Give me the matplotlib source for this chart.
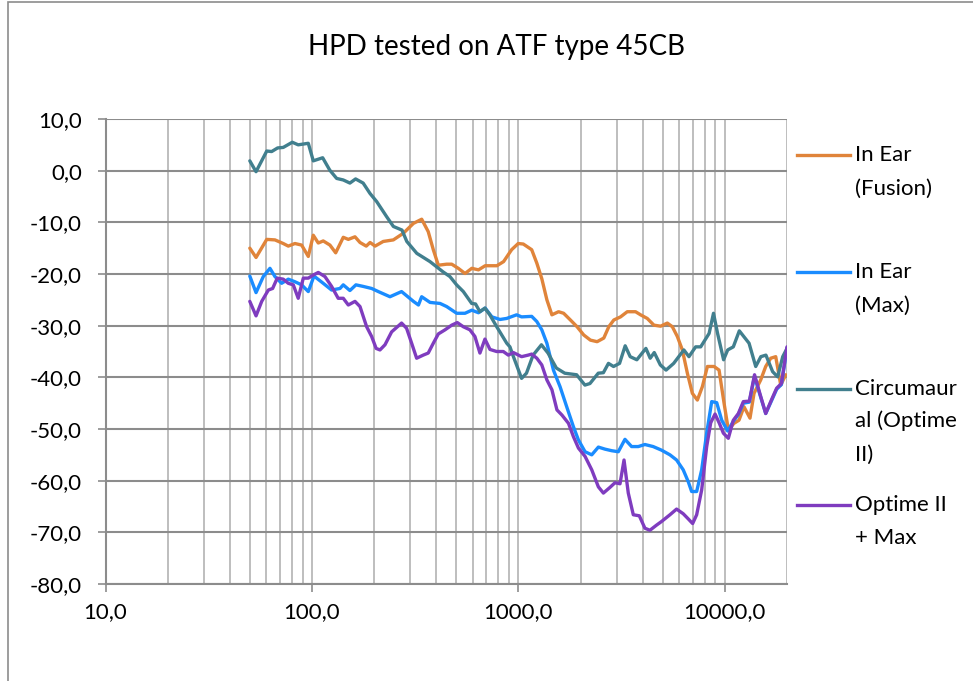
import numpy as np
import matplotlib
matplotlib.use("Agg")
import matplotlib.pyplot as plt
from matplotlib.lines import Line2D
from matplotlib.patches import Rectangle
from matplotlib.ticker import FixedLocator, FuncFormatter, NullFormatter

plt.rcParams['font.family'] = ['Lato', 'DejaVu Sans']

TITLE = "HPD tested on ATF type 45CB"

# In Ear (Fusion)
fusion_f = [50, 53.6, 60.4, 66.2, 72.6, 76.8, 82.7, 89.1, 96, 101.5, 107.3, 113.4, 122.2,
            130.3, 141.8, 150, 161.6, 170.9, 183.2, 191.2, 202.2, 221.5, 247.9, 277.4,
            310.2, 340.1, 365.8, 387.1, 409.4, 449.2, 475.4, 511.4, 551.4, 594.7, 640.5,
            690.4, 786.7, 847.8, 927, 998, 1056, 1160, 1228, 1298, 1374, 1453, 1565,
            1656, 1786, 1923, 2072, 2233, 2406, 2592, 2741, 2899, 3124, 3367, 3693, 3906,
            4208, 4533, 4885, 5264, 5567, 5887, 6225, 6583, 6960, 7360, 7783, 8230, 8866,
            9374, 9912, 10401, 11070, 11706, 12378, 13237, 13845, 14916, 15773, 16680,
            17637, 18650, 19720]
fusion_v = [-15.0, -16.8, -13.3, -13.4, -14.1, -14.6, -14.1, -14.4, -16.6, -12.5, -14.0,
            -13.6, -14.4, -15.9, -12.9, -13.3, -12.8, -13.9, -14.6, -13.9, -14.6, -13.7,
            -13.4, -12.1, -10.2, -9.4, -11.8, -15.3, -18.3, -18.1, -18.1, -18.9, -19.9,
            -18.9, -19.2, -18.4, -18.4, -17.6, -15.3, -14.1, -14.2, -15.3, -17.9, -20.9,
            -25.0, -27.9, -27.3, -27.6, -28.9, -30.2, -31.8, -32.8, -33.1, -32.4, -30.2,
            -28.9, -28.3, -27.3, -27.3, -27.9, -28.6, -29.9, -30.1, -29.5, -30.2, -32.1,
            -34.7, -39.2, -43.1, -44.4, -41.8, -37.9, -37.9, -38.6, -45.0, -50.2, -48.9,
            -48.3, -45.7, -47.9, -43.1, -40.5, -37.9, -36.3, -36.0, -41.5, -39.5]

# In Ear (Max)
max_f = [50, 53.6, 58.1, 62.6, 66.2, 71.3, 76.8, 82.7, 89.1, 96, 102.3, 113.4, 124.5,
         136.7, 141.8, 152.7, 163.3, 177, 194.6, 209.6, 238.7, 271.7, 310.2, 328, 340,
         373.2, 417.4, 449.2, 502.3, 551.4, 594.7, 640.5, 690.4, 744.2, 814.5, 877.6,
         980.4, 1036, 1160, 1228, 1298, 1374, 1478, 1591, 1714, 1845, 1952, 2103, 2266,
         2440, 2627, 2830, 3047, 3282, 3534, 3806, 4099, 4496, 4937, 5420, 5837, 6285,
         6649, 6904, 7302, 7722, 8166, 8636, 9132, 9658, 10320, 10992, 11625, 12290,
         13140, 13923, 14770, 15773, 16800, 17820, 18790, 20000]
max_v = [-20.4, -23.6, -20.5, -18.9, -20.5, -21.8, -21.0, -21.5, -22.1, -23.4, -20.4,
         -21.8, -23.1, -22.8, -22.1, -23.2, -22.1, -22.4, -22.8, -23.4, -24.4, -23.4,
         -25.3, -26.0, -24.4, -25.5, -25.7, -26.3, -27.6, -27.6, -27.0, -27.5, -26.6,
         -28.3, -28.8, -28.6, -27.9, -28.3, -28.2, -29.2, -30.8, -33.4, -38.6, -41.8,
         -45.7, -49.5, -52.1, -54.4, -55.0, -53.5, -53.9, -54.2, -54.4, -52.0, -53.4,
         -53.4, -53.0, -53.4, -54.1, -55.0, -56.0, -57.9, -60.2, -62.1, -62.1, -57.9,
         -50.8, -44.7, -44.9, -48.3, -50.4, -48.5, -47.2, -45.0, -44.8, -39.8, -43.3,
         -47.0, -44.6, -42.3, -41.4, -34.3]

# Circumaural (Optime II)
circ_f = [50, 53.6, 60.4, 63.8, 68.2, 72.6, 80.3, 85.8, 96, 101.5, 112.7, 122, 131.7,
          141.8, 152.7, 162.7, 177, 191, 206, 230, 248, 273, 288, 322, 373, 432, 466,
          502, 541, 594, 620, 651, 688, 727, 785, 813, 878, 910, 946, 1036, 1094, 1178,
          1293, 1391, 1527, 1677, 1914, 2100, 2221, 2437, 2580, 2730, 2889, 3090, 3290,
          3479, 3747, 4145, 4350, 4550, 4870, 5190, 5650, 6330, 6700, 7220, 7640, 8390,
          8810, 9220, 9860, 10320, 10990, 11750, 13100, 14110, 14940, 15810, 17040,
          18020, 19070, 20000]
circ_v = [1.9, -0.2, 3.8, 3.7, 4.4, 4.5, 5.5, 5.0, 5.3, 1.9, 2.5, 0.1, -1.5, -1.8, -2.4,
          -1.6, -2.4, -4.4, -6.0, -8.9, -10.8, -11.5, -13.7, -16.0, -17.6, -19.6, -20.5,
          -22.1, -23.4, -25.7, -25.8, -27.3, -26.6, -27.9, -30.2, -31.2, -33.4, -34.1,
          -36.0, -40.2, -39.2, -35.7, -33.7, -35.3, -38.2, -39.2, -39.5, -41.5, -41.2,
          -39.2, -39.1, -37.3, -37.9, -37.3, -33.9, -36.0, -36.6, -34.4, -36.3, -35.2,
          -37.6, -38.6, -37.3, -34.7, -36.0, -34.1, -34.1, -31.5, -27.6, -31.5, -36.6,
          -34.7, -34.1, -31.0, -33.4, -37.9, -36.0, -35.7, -38.9, -39.9, -36.0, -34.4]

# Optime II + Max
combo_f = [50, 53.6, 57.1, 61.5, 64.5, 67.9, 72.6, 76.8, 81.2, 85.8, 90.8, 96, 101.5,
           107.3, 115.6, 124.5, 134, 141.8, 150, 161.6, 170.9, 184, 194.6, 204.6, 213.5,
           225.8, 243.2, 271.7, 287.3, 304, 321.4, 345.9, 365.8, 387.1, 409.4, 441.3,
           475.4, 505.7, 540.6, 582.1, 615.7, 651.1, 688.6, 728.3, 784.1, 844.9, 893.6,
           945, 1036, 1115, 1160, 1228, 1298, 1374, 1453, 1537, 1625, 1748, 1848, 1954,
           2103, 2266, 2440, 2580, 2777, 2937, 3106, 3248, 3406, 3602, 3852, 4099, 4335,
           4669, 4937, 5420, 5837, 6285, 6649, 6982, 7302, 7722, 8166, 8540, 8965, 9405,
           9834, 10395, 10992, 11625, 12290, 13140, 13923, 14770, 15773, 16800, 17820,
           18790, 20000]
combo_v = [-25.3, -28.1, -25.3, -23.1, -22.8, -20.8, -21.0, -21.8, -22.1, -24.7, -20.8,
           -20.8, -20.2, -19.7, -20.5, -22.4, -24.7, -24.7, -26.0, -25.3, -26.3, -30.2,
           -32.1, -34.4, -34.7, -33.7, -31.2, -29.5, -30.5, -33.4, -36.3, -35.7, -35.3,
           -33.4, -31.6, -30.8, -29.9, -29.4, -30.2, -30.8, -32.1, -35.3, -32.6, -34.6,
           -35.0, -35.0, -35.7, -35.2, -36.0, -35.7, -35.5, -36.3, -37.6, -40.5, -42.4,
           -46.3, -47.3, -48.9, -51.5, -53.7, -55.3, -57.9, -61.2, -62.4, -61.3, -60.4,
           -60.6, -56.0, -62.4, -66.6, -66.8, -69.2, -69.6, -68.6, -67.9, -66.6, -65.5,
           -66.4, -67.4, -68.3, -66.6, -61.8, -53.4, -48.8, -47.1, -48.9, -50.8, -51.8,
           -48.3, -47.0, -44.7, -44.6, -39.5, -43.1, -47.0, -44.4, -42.1, -41.2, -34.1]

series = [
    (["In Ear", "(Fusion)"], fusion_f, fusion_v, '#E0843A'),
    (["In Ear", "(Max)"], max_f, max_v, '#1A8CFF'),
    (["Circumaur", "al (Optime", "II)"], circ_f, circ_v, '#417F8E'),
    (["Optime II", "+ Max"], combo_f, combo_v, '#7F3CBF'),
]

W, H = 973, 681
fig = plt.figure(figsize=(W / 100, H / 100), dpi=100)
ax = fig.add_axes([105.5 / W, (H - 584) / H, (787 - 105.5) / W, (584 - 119) / H])

for labels, f, v, c in series:
    ax.plot(f, v, color=c, linewidth=2.4, solid_joinstyle='round', solid_capstyle='round')

ax.set_xscale('log')
ax.set_xlim(10, 20000)
ax.set_ylim(-80, 10)

ax.xaxis.set_major_locator(FixedLocator([10, 100, 1000, 10000]))
minors = [m * 10 ** e for e in range(1, 5) for m in range(2, 10) if m * 10 ** e <= 20000]
ax.xaxis.set_minor_locator(FixedLocator(minors))
ax.xaxis.set_minor_formatter(NullFormatter())
ax.yaxis.set_major_locator(FixedLocator(np.arange(-80, 11, 10)))

comma = FuncFormatter(lambda val, pos: f"{val:.1f}".replace('.', ','))
ax.xaxis.set_major_formatter(comma)
ax.yaxis.set_major_formatter(comma)

ax.grid(True, axis='y', which='major', color='#8C8C8C', linewidth=1.5)
ax.grid(True, axis='x', which='both', color='#BEBEBE', linewidth=1.4)
ax.set_axisbelow(True)

for s in ['top', 'right']:
    ax.spines[s].set_visible(False)
for s in ['left', 'bottom']:
    ax.spines[s].set_color('#8C8C8C')
    ax.spines[s].set_linewidth(1.5)

ax.tick_params(axis='x', which='major', direction='out', length=6, width=1.2,
               color='#8C8C8C', labelsize=16, pad=7)
ax.tick_params(axis='x', which='minor', length=0)
ax.tick_params(axis='y', direction='out', length=6, width=1.2, color='#8C8C8C',
               labelsize=16, pad=11)

fig.text(496 / W, 1 - 47 / H, TITLE, ha='center', va='center', fontsize=20)

# legend drawn to the right like the spreadsheet layout
leg_y = [[155, 189], [272, 306], [389, 421, 455], [505, 538]]
for (labels, f, v, c), ys in zip(series, leg_y):
    fig.add_artist(Line2D([797 / W, 850 / W], [1 - ys[0] / H] * 2, color=c,
                          linewidth=2.4, transform=fig.transFigure))
    for lab, y in zip(labels, ys):
        fig.text(855 / W, 1 - y / H, lab, ha='left', va='center', fontsize=16)

fig.add_artist(Rectangle((7.5 / W, -0.1), 1.2, 1.1 - 2 / H, transform=fig.transFigure,
                         fill=False, edgecolor='#8C8C8C', linewidth=1.2))

fig.savefig('out.png', dpi=100)
